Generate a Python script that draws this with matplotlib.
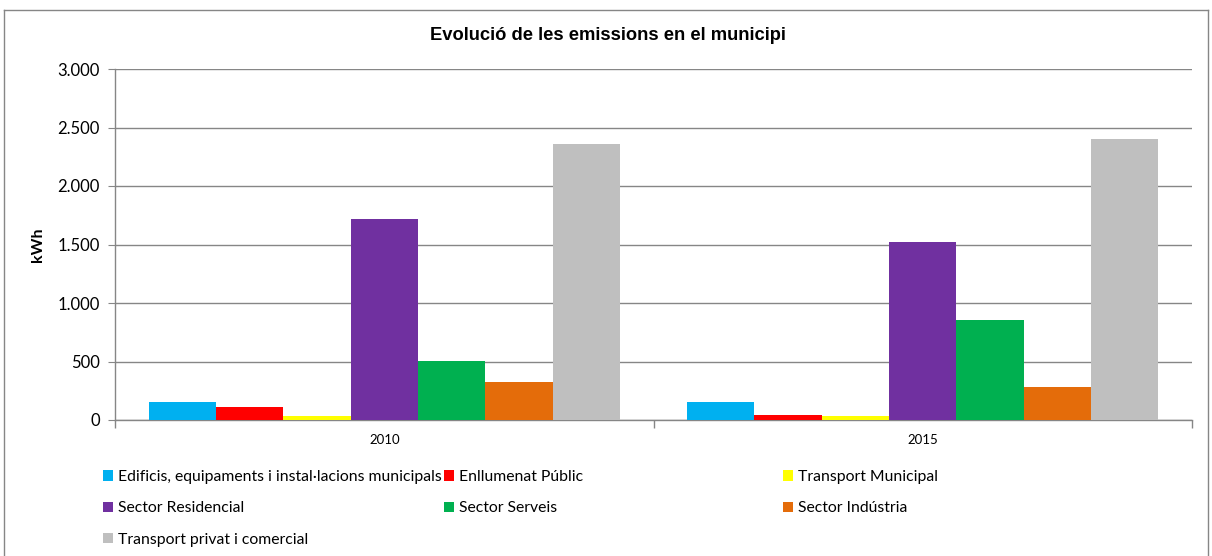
import matplotlib
matplotlib.use("Agg")
import matplotlib.pyplot as plt
from matplotlib.ticker import FuncFormatter, FixedLocator
from matplotlib.lines import Line2D
import numpy as np

plt.rcParams['font.family'] = ['Lato', 'DejaVu Sans']

years = ["2010", "2015"]
series = [
    "Edificis, equipaments i instal·lacions municipals",
    "Enllumenat Públic",
    "Transport Municipal",
    "Sector Residencial",
    "Sector Serveis",
    "Sector Indústria",
    "Transport privat i comercial",
]
edificis = [150, 150]
enllumenat = [115, 40]
transport_municipal = [30, 30]
residencial = [1720, 1520]
serveis = [505, 855]
industria = [325, 280]
transport_privat = [2355, 2405]
values = [edificis, enllumenat, transport_municipal, residencial, serveis,
          industria, transport_privat]
colors = ["#00B0F0", "#FF0000", "#FFFF00", "#7030A0", "#00B050", "#E46C0A", "#BFBFBF"]

W, H = 1212, 556
fig = plt.figure(figsize=(W / 100, H / 100), dpi=100)
ax = fig.add_axes([115 / W, (H - 420) / H, (1192 - 115) / W, (420 - 69) / H])

x = np.arange(len(years))
bw = 0.125
handles = []
for i, (name, vals, c) in enumerate(zip(series, values, colors)):
    b = ax.bar(x - 3 * bw + i * bw, vals, width=bw, color=c, label=name,
               linewidth=0, zorder=3)
    handles.append(b)

ax.set_xlim(-0.5, 1.5)
ax.set_ylim(0, 3000)
ax.set_yticks(np.arange(0, 3001, 500))
ax.yaxis.set_major_formatter(FuncFormatter(lambda v, p: f"{int(v):,}".replace(",", ".")))
ax.grid(axis="y", color="#868686", linewidth=1, zorder=0)
for s in ["top", "right"]:
    ax.spines[s].set_visible(False)
for s in ["left", "bottom"]:
    ax.spines[s].set_color("#868686")
    ax.spines[s].set_linewidth(1)
ax.tick_params(axis="y", length=5, color="#868686", labelsize=12, pad=6)
ax.set_xticks(x)
ax.set_xticklabels(years)
ax.tick_params(axis="x", length=0, labelsize=9.5, pad=10)
ax.xaxis.set_minor_locator(FixedLocator([-0.5, 0.5, 1.5]))
ax.tick_params(axis="x", which="minor", length=6, color="#868686", width=1)
ax.set_ylabel("kWh", fontsize=11.5, fontweight="bold", labelpad=9)

fig.text(608 / W, 1 - 36 / H, "Evolució de les emissions en el municipi",
         ha="center", va="center", fontsize=13.2, fontweight="bold",
         family=["Liberation Sans", "DejaVu Sans"])

# outer border
fig.add_artist(Line2D([4 / W, 4 / W], [0, 1 - 10 / H], transform=fig.transFigure,
                      color="#868686", linewidth=1))
fig.add_artist(Line2D([4 / W, 1208 / W], [1 - 10 / H, 1 - 10 / H], transform=fig.transFigure,
                      color="#868686", linewidth=1))
fig.add_artist(Line2D([1208 / W, 1208 / W], [0, 1 - 10 / H], transform=fig.transFigure,
                      color="#868686", linewidth=1))

cols = [[0, 3, 6], [1, 4], [2, 5]]
col_x = [103, 444, 783]
for cx, idxs in zip(col_x, cols):
    fig.legend([handles[i] for i in idxs], [series[i] for i in idxs],
               loc="upper left", bbox_to_anchor=(cx / W, 1 - 470 / H),
               frameon=False, fontsize=11.3, handlelength=0.65, handleheight=0.65,
               handletextpad=0.3, labelspacing=1.1, borderaxespad=0, borderpad=0)

fig.savefig("out.png", dpi=100)
